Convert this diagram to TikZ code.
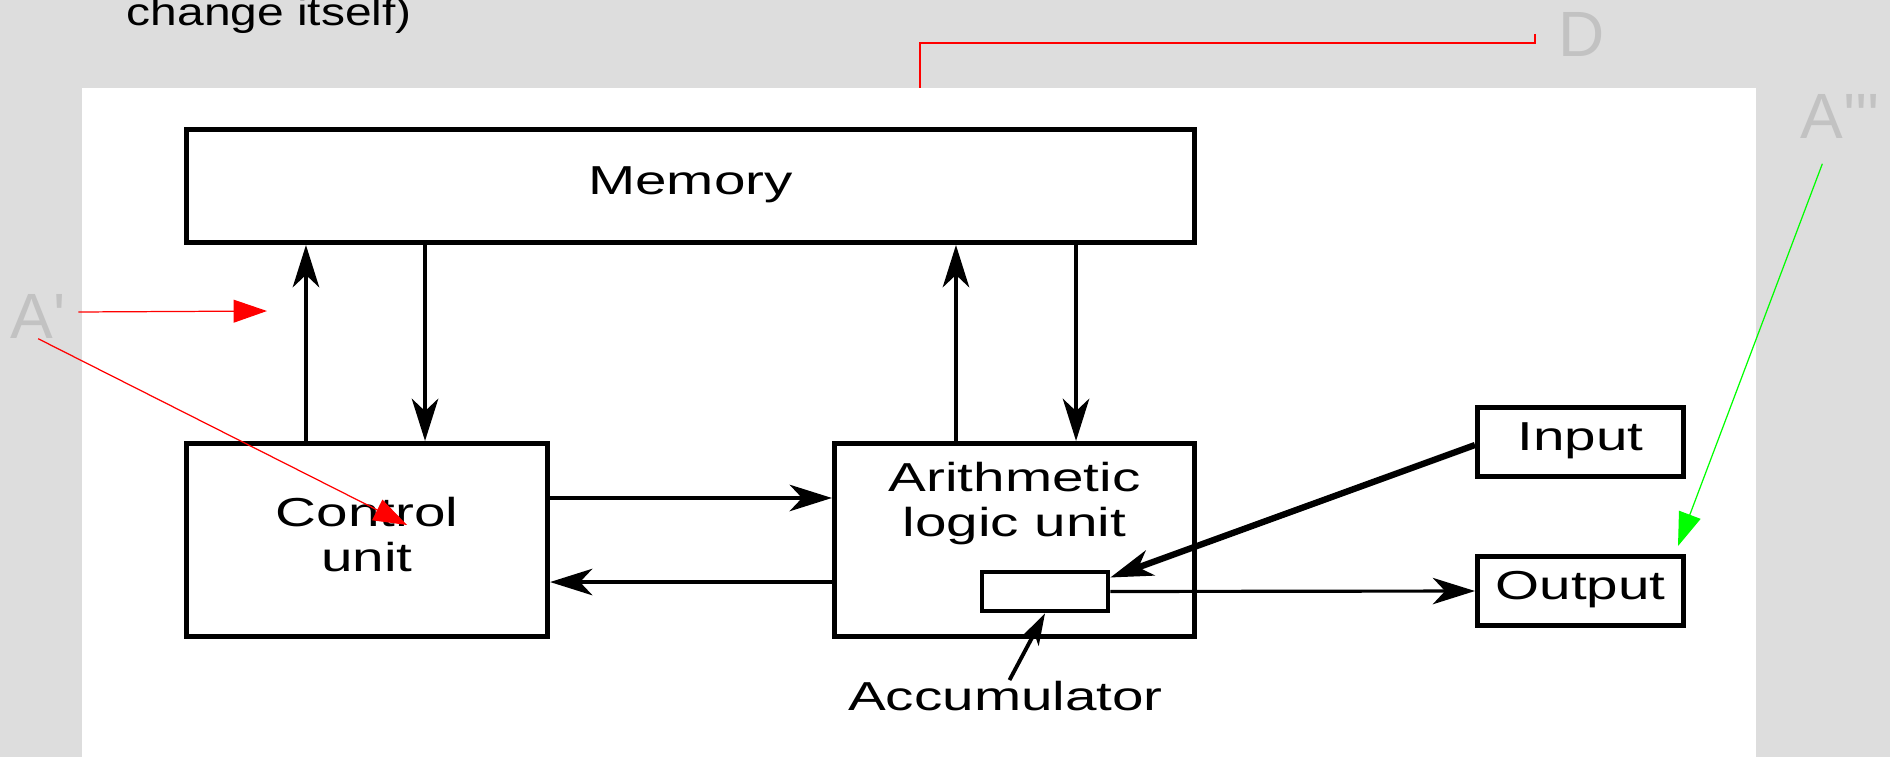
\documentclass[tikz,border=0pt]{standalone}
\usepackage{fontspec}
\usepackage{graphicx}
\usepackage{tikz}
\usetikzlibrary{arrows.meta,positioning}
\setmainfont{Liberation Sans}
\newfontfamily\notefont[Ligatures=TeXOff]{Liberation Sans}
\definecolor{PanelGray}{HTML}{DDDDDD}
\definecolor{LabelGray}{HTML}{C2C2C2}
\definecolor{NoteRed}{HTML}{FF0000}
\definecolor{NoteGreen}{HTML}{00FF00}
\newcommand{\wide}[1]{\scalebox{1.4}[1]{\begin{tabular}{@{}c@{}}#1\end{tabular}}}
\tikzset{
  BX/.style={rectangle,draw,line width=1.4pt,inner sep=0pt,
             font=\fontsize{11.5}{12.6}\selectfont},
  TX/.style={inner sep=0pt,font=\fontsize{11.5}{12.6}\selectfont},
  arr/.style={-{Stealth[length=12pt,width=7.5pt,inset=3.5pt]},line width=1.3pt},
  LG/.style={inner sep=0pt,anchor=base west,text=LabelGray,
             font=\notefont\fontsize{18.2}{20}\selectfont},
  rA/.style={-{Triangle[length=9.5pt,width=6.5pt]},line width=0.35pt,draw=NoteRed},
  gA/.style={-{Triangle[length=9.5pt,width=6.5pt]},line width=0.35pt,draw=NoteGreen}
}

\begin{document}
\begin{tikzpicture}[x=0.01cm,y=-0.01cm]
  \useasboundingbox (0,0) rectangle (1890,757);
  \fill[PanelGray] (0,0) rectangle (1890,757);
  \fill[white] (82,88) rectangle (1756,757);

  \node[inner sep=0pt,anchor=base west,font=\fontsize{11}{13}\selectfont] (chg) at (126,25) {\scalebox{1.24}[1]{change itself)}};

  % machine
  \node[BX,minimum width=10.08cm,minimum height=1.13cm] (mem) at (690.5,186) {\wide{Memory}};
  \node[BX,minimum width=3.61cm,minimum height=1.93cm] (ctrl) at (367,540) {\wide{Control\\unit}};
  \node[BX,minimum width=3.6cm,minimum height=1.93cm] (alu) at (1014.5,540) {};
  \node[TX,below=0.19cm of alu.north] (alutxt) {\wide{Arithmetic\\logic unit}};
  \node[BX,line width=1.3pt,minimum width=1.26cm,minimum height=0.39cm] (acc) at (1045,591.5) {};
  \node[TX,below=0.41cm of alu.south,xshift=-0.09cm] (acclab) {\scalebox{1.4}[1]{Accumulator}};
  \node[BX,minimum width=2.06cm,minimum height=0.69cm] (inp) at (1580.5,442) {\wide{Input}};
  \node[BX,minimum width=2.06cm,minimum height=0.69cm] (out) at (1580.5,591) {\wide{Output}};

  \draw[arr] ([xshift=-0.61cm]ctrl.north) -- ([xshift=-0.61cm]ctrl.north |- mem.south);
  \draw[arr] ([xshift=0.58cm]ctrl.north |- mem.south) -- ([xshift=0.58cm]ctrl.north);
  \draw[arr] ([xshift=-0.585cm]alu.north) -- ([xshift=-0.585cm]alu.north |- mem.south);
  \draw[arr] ([xshift=0.615cm]alu.north |- mem.south) -- ([xshift=0.615cm]alu.north);
  \draw[arr] ([yshift=0.42cm]ctrl.east) -- ([yshift=0.42cm]ctrl.east -| alu.west);
  \draw[arr] ([yshift=-0.42cm]alu.west) -- ([yshift=-0.42cm]alu.west -| ctrl.east);
  \draw[arr,line width=1.8pt] ([yshift=-0.03cm]inp.west) -- ([yshift=0.14cm]acc.east);
  \draw[arr,line width=0.9pt] (acc.east) -- (out.west);
  \draw[-{Stealth[length=9pt,width=5.5pt,inset=2.5pt]},line width=1.1pt] ([xshift=0.04cm]acclab.north) -- (acc.south);

  % notes
  \node[LG] (dlab) at (1558,56) {D};
  \node[LG] (aone) at (10,338) {A'};
  \node[LG] (athree) at (1800,138) {A'''};
  \coordinate (dfoot) at (920,88);
  \coordinate (atip) at (267,311);
  \draw[NoteRed,line width=0.6pt] ([xshift=-0.23cm]dlab.west) -- ++(0,9) -| (dfoot);
  \draw[rA] ([xshift=0.12cm,yshift=0.04cm]aone.east) -- (atip);
  \draw[rA] (aone.south) -- ([xshift=0.4cm,yshift=0.15cm]ctrl.center);
  \draw[gA] ([xshift=-0.18cm,yshift=-0.25cm]athree.south) -- ([xshift=-0.08cm,yshift=0.08cm]out.north east);
\end{tikzpicture}
\end{document}
